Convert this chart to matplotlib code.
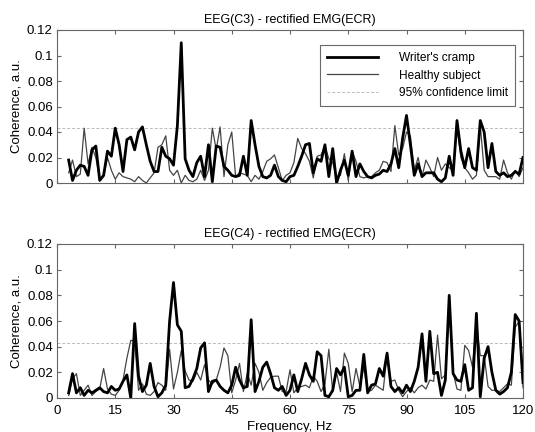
import numpy as np
import matplotlib
matplotlib.use("Agg")
import matplotlib.pyplot as plt

freq = list(range(3, 121))

wc_c3 = [.018, .002, .010, .014, .013, .006, .026, .029, .002, .006,
         .025, .021, .043, .030, .009, .034, .036, .026, .040, .044,
         .030, .017, .009, .009, .028, .021, .019, .014, .045, .110,
         .019, .010, .005, .016, .021, .005, .030, .001, .029, .028,
         .013, .010, .006, .005, .006, .021, .006, .049, .030, .013,
         .005, .004, .006, .014, .005, .002, .001, .005, .006, .013,
         .021, .030, .031, .008, .019, .017, .030, .005, .027, .000,
         .010, .018, .006, .025, .005, .015, .009, .005, .004, .006,
         .007, .010, .009, .015, .027, .012, .035, .053, .030, .006,
         .015, .005, .008, .008, .008, .003, .001, .004, .021, .006,
         .049, .025, .012, .027, .012, .010, .049, .040, .012, .031,
         .009, .006, .008, .005, .006, .009, .007, .020]

hs_c3 = [.008, .018, .005, .007, .043, .015, .028, .020, .003, .005,
         .020, .010, .003, .008, .005, .004, .003, .001, .005, .002,
         .000, .004, .008, .028, .030, .037, .010, .006, .010, .000,
         .006, .002, .001, .003, .010, .002, .010, .043, .026, .044,
         .005, .030, .040, .005, .008, .007, .006, .001, .006, .003,
         .009, .017, .019, .022, .012, .002, .006, .008, .016, .035,
         .027, .023, .017, .004, .021, .022, .029, .019, .016, .004,
         .006, .023, .002, .025, .017, .005, .004, .005, .005, .008,
         .010, .017, .016, .009, .045, .022, .027, .040, .037, .010,
         .020, .005, .018, .012, .005, .020, .010, .015, .012, .010,
         .045, .020, .012, .008, .003, .006, .045, .010, .005, .005,
         .005, .003, .018, .008, .003, .010, .005, .012]

wc_c4 = [.004, .019, .004, .008, .002, .006, .004, .006, .008, .005,
         .004, .009, .006, .007, .013, .018, .000, .058, .017, .005,
         .010, .027, .009, .001, .004, .010, .060, .090, .057, .052,
         .008, .009, .015, .023, .039, .043, .005, .013, .014, .009,
         .006, .004, .010, .024, .014, .008, .009, .061, .005, .013,
         .024, .028, .019, .008, .006, .009, .002, .006, .018, .005,
         .015, .027, .018, .013, .036, .033, .002, .001, .006, .023,
         .018, .024, .001, .002, .006, .006, .034, .004, .010, .011,
         .023, .017, .035, .009, .005, .008, .004, .010, .005, .013,
         .024, .050, .013, .052, .019, .020, .002, .014, .080, .019,
         .014, .013, .026, .006, .008, .066, .001, .031, .040, .020,
         .006, .003, .005, .008, .020, .065, .060, .012]

hs_c4 = [.002, .015, .019, .002, .006, .010, .002, .005, .007, .023,
         .007, .003, .002, .006, .014, .031, .045, .044, .006, .011,
         .003, .002, .005, .012, .010, .006, .038, .007, .020, .037,
         .021, .014, .013, .020, .014, .026, .014, .011, .014, .024,
         .039, .033, .004, .014, .027, .005, .019, .010, .027, .020,
         .006, .012, .016, .017, .017, .005, .005, .022, .004, .008,
         .009, .010, .008, .017, .013, .005, .011, .038, .005, .020,
         .005, .035, .027, .005, .023, .009, .024, .005, .006, .010,
         .008, .006, .034, .013, .014, .006, .001, .005, .008, .004,
         .008, .010, .007, .014, .013, .049, .015, .018, .070, .020,
         .007, .006, .041, .037, .024, .060, .033, .033, .009, .006,
         .006, .005, .008, .011, .010, .055, .060, .008]

conf_limit = 0.043
titles = ["EEG(C3) - rectified EMG(ECR)", "EEG(C4) - rectified EMG(ECR)"]
legend_labels = ["Writer's cramp", "Healthy subject", "95% confidence limit"]
xticks = [0, 15, 30, 45, 60, 75, 90, 105, 120]
yticks = [0, 0.02, 0.04, 0.06, 0.08, 0.1, 0.12]
ytick_labels = ["0", "0.02", "0.04", "0.06", "0.08", "0.1", "0.12"]

plt.rcParams['font.family'] = ['Liberation Sans', 'DejaVu Sans']

fig = plt.figure(figsize=(5.35, 4.32), dpi=100)
ax1 = fig.add_axes([57/535, 1-183/432, 466/535, 153/432])
ax2 = fig.add_axes([57/535, 1-398/432, 466/535, 154/432])

for ax, wc, hs, title in [(ax1, wc_c3, hs_c3, titles[0]), (ax2, wc_c4, hs_c4, titles[1])]:
    ax.axhline(conf_limit, color='#bbbbbb', lw=0.7, ls=(0, (3, 2)), zorder=1,
               label=legend_labels[2])
    ax.plot(freq, hs, color='#454545', lw=0.9, zorder=2, label=legend_labels[1])
    ax.plot(freq, wc, color='black', lw=2.0, zorder=3, label=legend_labels[0])
    ax.set_xlim(0, 120)
    ax.set_ylim(0, 0.12)
    ax.set_xticks(xticks)
    ax.set_yticks(yticks)
    ax.set_yticklabels(ytick_labels)
    ax.tick_params(direction='in', top=True, right=True, length=3,
                   color='#666666', labelsize=9.5, pad=3)
    ax.tick_params(axis='x', pad=5)
    for s in ax.spines.values():
        s.set_color('#666666')
        s.set_linewidth(0.8)
    ax.set_title(title, fontsize=9, pad=5)
    ax.set_ylabel("Coherence, a.u.", fontsize=9.5, labelpad=3)

ax1.set_xticklabels([])
ax2.set_xlabel("Frequency, Hz", fontsize=9.5, labelpad=3)

h, l = ax1.get_legend_handles_labels()
order = [2, 1, 0]
leg = ax1.legend([h[i] for i in order], [l[i] for i in order],
                 loc='upper right', bbox_to_anchor=(0.983, 0.902),
                 borderaxespad=0, fontsize=8.6, frameon=True, fancybox=False,
                 edgecolor='#444444', handlelength=4.3, handletextpad=1.7,
                 borderpad=0.6, labelspacing=0.45)
leg.get_frame().set_linewidth(0.8)

fig.savefig("out.png", dpi=100)
